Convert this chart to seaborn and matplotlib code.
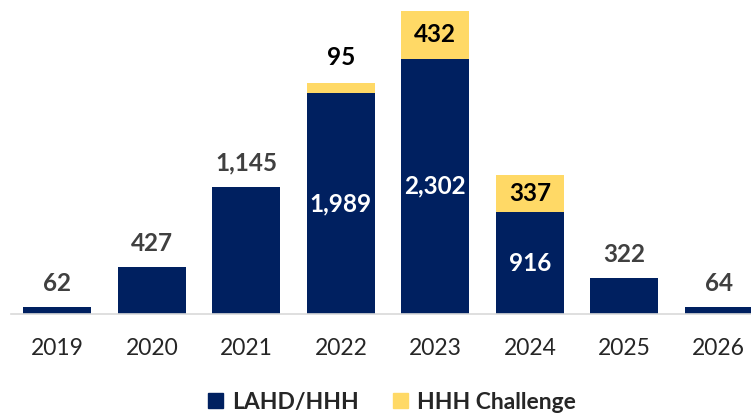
import matplotlib
matplotlib.use("Agg")
import matplotlib.pyplot as plt
import seaborn as sns
import pandas as pd
from matplotlib.patches import Patch

years = ["2019", "2020", "2021", "2022", "2023", "2024", "2025", "2026"]
lahd = [62, 427, 1145, 1989, 2302, 916, 322, 64]
challenge = [0, 0, 0, 95, 432, 337, 0, 0]

navy = "#002060"
gold = "#FFD966"

sns.set_style("white")
plt.rcParams['font.family'] = ['Lato', 'DejaVu Sans']

df = pd.DataFrame({"year": years, "lahd": lahd, "challenge": challenge})

fig = plt.figure(figsize=(7.51, 4.15), dpi=100)
ax = fig.add_axes([11 / 751, 101 / 415, 740 / 751, 314 / 415])

sns.barplot(data=df, x="year", y="lahd", color=navy, width=0.72,
            saturation=1, linewidth=0, ax=ax)
sns.barplot(data=df, x="year", y="challenge", color=gold, width=0.72,
            saturation=1, linewidth=0, bottom=df["lahd"], ax=ax)

ax.set_xlim(-0.49, 7.34)
ax.set_ylim(0, 2831)
ax.set_xlabel("")
ax.set_ylabel("")
ax.set_yticks([])
for s in ["top", "right", "left"]:
    ax.spines[s].set_visible(False)
ax.spines["bottom"].set_color("#D9D9D9")
ax.spines["bottom"].set_linewidth(1.2)
ax.tick_params(axis="x", length=0, pad=17, labelsize=16.5, labelcolor="#262626")

vsize = 17.5
for i, (a, c) in enumerate(zip(lahd, challenge)):
    if c == 0:
        ax.annotate(f"{a:,}", (i, a), xytext=(0, 17), textcoords="offset points",
                    ha="center", va="center", fontsize=vsize, fontweight="bold",
                    color="#404040")
    else:
        ax.text(i, a / 2, f"{a:,}", ha="center", va="center", fontsize=vsize,
                fontweight="bold", color="white")
        if c < 200:
            ax.annotate(f"{c:,}", (i, a + c), xytext=(0, 18), textcoords="offset points",
                        ha="center", va="center", fontsize=vsize, fontweight="bold",
                        color="black")
        else:
            ax.text(i, a + c / 2, f"{c:,}", ha="center", va="center", fontsize=vsize,
                    fontweight="bold", color="black")

handles = [Patch(color=navy, label="LAHD/HHH"), Patch(color=gold, label="HHH Challenge")]
leg = fig.legend(handles=handles, loc="center", bbox_to_anchor=(0.522, 0.031), ncol=2,
                 frameon=False, prop={"size": 16.5, "weight": "bold"},
                 handlelength=0.65, handleheight=0.65, handletextpad=0.4,
                 columnspacing=1.5)
for t in leg.get_texts():
    t.set_color("#262626")

fig.savefig("out.png", dpi=100)
